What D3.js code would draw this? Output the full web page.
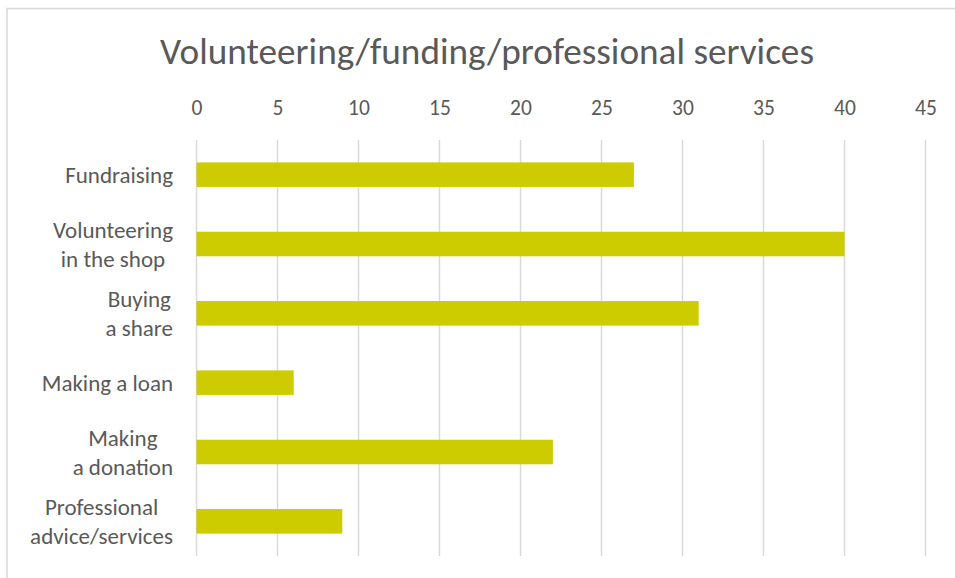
<!DOCTYPE html>
<html>
<head>
<meta charset="utf-8">
<script src="https://cdn.jsdelivr.net/npm/d3@7"></script>
<style>
  html, body { margin: 0; padding: 0; background: #ffffff; }
  svg { display: block; }
  text { font-family: Calibri, Carlito, Lato, "Open Sans", sans-serif; fill: #595959; }
</style>
</head>
<body>
<svg id="chart" width="955" height="578"></svg>
<script>
// Chart content
const chartTitle = "Volunteering/funding/professional services";
const categories = [
  ["Fundraising"],
  ["Volunteering", "in the shop"],
  ["Buying", "a share"],
  ["Making a loan"],
  ["Making", "a donation"],
  ["Professional", "advice/services"]
];
const values = [27, 40, 31, 6, 22, 9];
const tickValues = [0, 5, 10, 15, 20, 25, 30, 35, 40, 45];

const W = 955, H = 578;
const plot = { left: 196.5, right: 925.5, top: 140, bottom: 556 };
const barColor = "#cccc00";
const gridColor = "#d9d9d9";

const svg = d3.select("#chart");

// Outer chart frame (its right and bottom edges run past the page)
svg.append("rect")
  .attr("x", 7).attr("y", 8.5)
  .attr("width", W + 20).attr("height", H + 20)
  .attr("fill", "#ffffff")
  .attr("stroke", gridColor).attr("stroke-width", 1.5);

const x = d3.scaleLinear().domain([0, 45]).range([plot.left, plot.right]);
const y = d3.scaleBand()
  .domain(d3.range(categories.length))
  .range([plot.top, plot.bottom])
  .paddingInner(0.646)
  .paddingOuter(0.323);

// Vertical gridlines
svg.append("g").selectAll("line")
  .data(tickValues)
  .join("line")
  .attr("x1", d => x(d)).attr("x2", d => x(d))
  .attr("y1", plot.top).attr("y2", plot.bottom)
  .attr("stroke", gridColor).attr("stroke-width", 1.5);

// Value axis along the top
const axis = svg.append("g")
  .attr("transform", `translate(0,${plot.top})`)
  .call(d3.axisTop(x).tickValues(tickValues).tickSize(0).tickPadding(0));
axis.select(".domain").remove();
axis.selectAll("text")
  .attr("y", -25)
  .attr("dy", 0)
  .style("font-size", "21.5px")
  .style("fill", "#595959");

// Bars
svg.append("g").selectAll("rect")
  .data(values)
  .join("rect")
  .attr("x", x(0))
  .attr("y", (d, i) => y(i))
  .attr("width", d => x(d) - x(0))
  .attr("height", y.bandwidth())
  .attr("fill", barColor);

// Category labels: lines centred within a right-aligned block
const labelRight = 173;
const lineGap = 29;
const labels = svg.append("g");
categories.forEach((lines, i) => {
  const cy = y(i) + y.bandwidth() / 2;
  const g = labels.append("g");
  const texts = lines.map((ln, k) =>
    g.append("text")
      .attr("text-anchor", "middle")
      .attr("dy", "0.35em")
      .attr("y", cy + (k - (lines.length - 1) / 2) * lineGap)
      .style("font-size", "23px")
      .text(ln)
  );
  const widest = d3.max(texts, t => t.node().getComputedTextLength());
  texts.forEach(t => t.attr("x", labelRight - widest / 2));
});

// Title, sized to span its width
const title = svg.append("text")
  .attr("x", 487).attr("y", 64)
  .attr("text-anchor", "middle")
  .style("font-size", "32px")
  .text(chartTitle);
const tw = title.node().getComputedTextLength();
title.style("font-size", (32 * 654 / tw).toFixed(2) + "px");
</script>
</body>
</html>
